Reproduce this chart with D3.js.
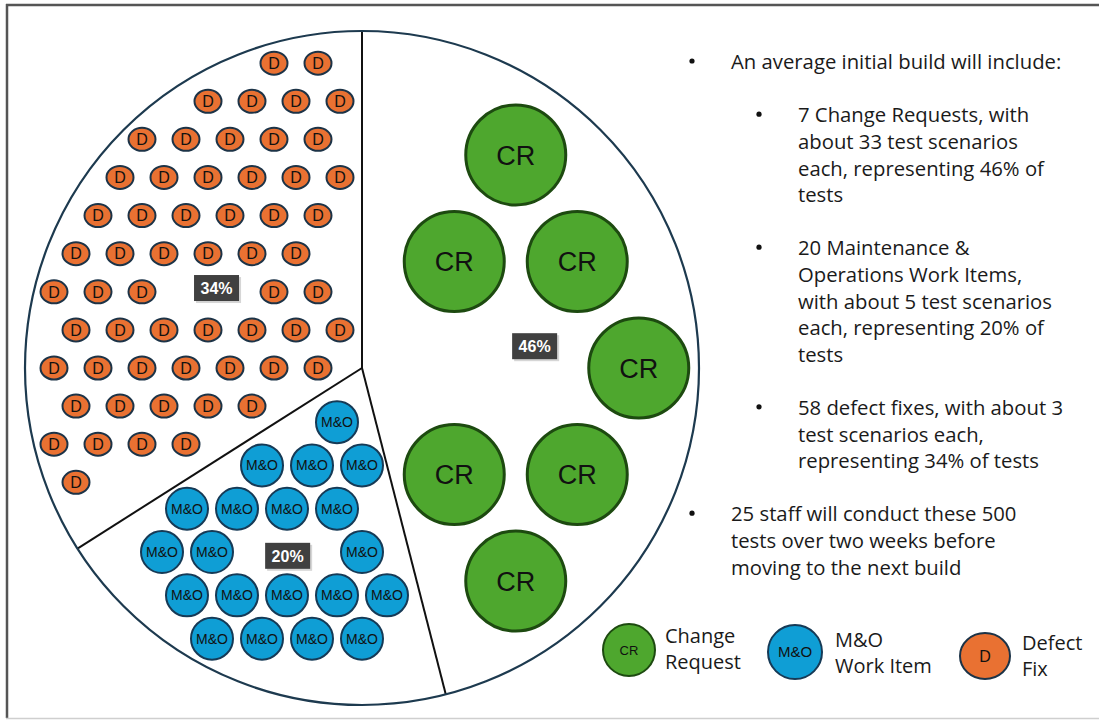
<!DOCTYPE html>
<html>
<head>
<meta charset="utf-8">
<script src="https://cdn.jsdelivr.net/npm/d3@7"></script>
<style>
  html, body { margin: 0; padding: 0; background: #fff; }
  svg { display: block; }
</style>
</head>
<body>
<svg id="chart" width="1099" height="720"></svg>
<script>
// Work item types in an initial build and their share of the tests
const categories = ["Change Request", "M&O Work Item", "Defect Fix"];
const iconLabels = ["CR", "M&O", "D"];
const itemCounts = [7, 20, 58];
const shareOfTests = [46, 20, 34];
const shareLabels = ["46%", "20%", "34%"];
const legendLines = [["Change", "Request"], ["M&O", "Work Item"], ["Defect", "Fix"]];

// Bullet notes beside the pie (level 0 = main bullet, level 1 = sub-bullet)
const noteLevels = [0, 1, 1, 1, 0];
const noteLines = [
  ["An average initial build will include:"],
  ["7 Change Requests, with", "about 33 test scenarios", "each, representing 46% of", "tests"],
  ["20 Maintenance &", "Operations Work Items,", "with about 5 test scenarios", "each, representing 20% of", "tests"],
  ["58 defect fixes, with about 3", "test scenarios each,", "representing 34% of tests"],
  ["25 staff will conduct these 500", "tests over two weeks before", "moving to the next build"]
];

// ---- styling ----
const fills = ["#4ea72e", "#0f9ed5", "#e97132"];
const strokes = ["#1d4a10", "#163a56", "#1c3347"];
const iconShape = [ {rx: 51, ry: 51, font: 27}, {rx: 22, ry: 22, font: 14}, {rx: 14.5, ry: 12.5, font: 16} ];
const legendShape = [ {rx: 27, ry: 27, font: 13}, {rx: 28, ry: 28, font: 15}, {rx: 26, ry: 24, font: 16} ];
const tagRadius = [174, 202, 166];
const textFont = "'Open Sans', Lato, sans-serif";

const svg = d3.select("#chart");

// outer frame
svg.append("line").attr("x1", 7).attr("y1", 4).attr("x2", 7).attr("y2", 718)
  .attr("stroke", "#555").attr("stroke-width", 2.5);
svg.append("line").attr("x1", 6).attr("y1", 5).attr("x2", 1099).attr("y2", 5)
  .attr("stroke", "#555").attr("stroke-width", 2.5);
svg.append("line").attr("x1", 6).attr("y1", 718.5).attr("x2", 1099).attr("y2", 718.5)
  .attr("stroke", "#cfcfcf").attr("stroke-width", 1.5);

// ---- pie ----
const cx = 362, cy = 368, R = 337;
const pie = d3.pie().sort(null).value(d => d.share);
const rows = categories.map((c, i) => ({ name: c, icon: iconLabels[i], count: itemCounts[i], share: shareOfTests[i], label: shareLabels[i], i }));
const slices = pie(rows);
const tagPos = d => d3.arc().innerRadius(tagRadius[d.data.i]).outerRadius(tagRadius[d.data.i]).centroid(d);

const g = svg.append("g").attr("transform", `translate(${cx},${cy})`);

g.append("circle").attr("r", R).attr("fill", "#fff");

// slice boundaries
g.selectAll("line.sep").data(slices).join("line").attr("class", "sep")
  .attr("x1", 0).attr("y1", 0)
  .attr("x2", d => R * Math.sin(d.startAngle))
  .attr("y2", d => -R * Math.cos(d.startAngle))
  .attr("stroke", "#111").attr("stroke-width", 2);

g.append("circle").attr("r", R).attr("fill", "none")
  .attr("stroke", "#1d3a4f").attr("stroke-width", 2.2);

// ---- icon layout: hex grid fitted inside each slice ----
const labelBox = { w: 45, h: 26 };

function normAngle(a) {
  a %= 2 * Math.PI;
  return a < 0 ? a + 2 * Math.PI : a;
}

function inSlice(x, y, d, clear) {
  if (Math.hypot(x, y) > R - clear - 3) return false;
  const a = normAngle(Math.atan2(x, -y) - d.startAngle);
  if (a > d.endAngle - d.startAngle) return false;
  for (const b of [d.startAngle, d.endAngle]) {
    const dist = Math.abs(x * Math.cos(b) + y * Math.sin(b));
    if (dist < clear) return false;
  }
  return true;
}

function candidates(d, s, clear, phase, avoid) {
  const pts = [];
  const rowH = s * Math.sqrt(3) / 2;
  const nr = Math.ceil(R / rowH) + 1, nc = Math.ceil(R / s) + 2;
  for (let j = -nr; j <= nr; j++) {
    const y = j * rowH + phase[1] * rowH;
    const off = (Math.abs(j) % 2) ? s / 2 : 0;
    for (let i = -nc; i <= nc; i++) {
      const x = i * s + off + phase[0] * s;
      if (!inSlice(x, y, d, clear)) continue;
      if (Math.abs(x - avoid[0]) < labelBox.w / 2 + clear && Math.abs(y - avoid[1]) < labelBox.h / 2 + clear) continue;
      pts.push([x, y]);
    }
  }
  return pts;
}

function layoutIcons(d, n, rIcon, pad) {
  const avoid = tagPos(d);
  const clear = rIcon + pad;
  const phases = [];
  for (let a = 0; a < 1; a += 0.25) for (let b = 0; b < 1; b += 0.25) phases.push([a, b]);
  for (let s = 300; s >= 15; s -= 0.5) {
    for (const ph of phases) {
      const pts = candidates(d, s, clear, ph, avoid);
      if (pts.length >= n) {
        const m = pts.length;
        return d3.range(n).map(k => pts[Math.floor(k * m / n)]);
      }
    }
  }
  return [];
}

slices.forEach(d => {
  const shape = iconShape[d.data.i];
  const pts = layoutIcons(d, d.data.count, shape.rx, d.data.i === 0 ? 6 : 2);
  const icons = g.append("g").selectAll("g").data(pts).join("g")
    .attr("transform", p => `translate(${p[0]},${p[1]})`);
  icons.append("ellipse")
    .attr("rx", shape.rx - 1).attr("ry", shape.ry - 1)
    .attr("fill", fills[d.data.i]).attr("stroke", strokes[d.data.i])
    .attr("stroke-width", d.data.i === 0 ? 3 : 2);
  icons.append("text")
    .attr("text-anchor", "middle").attr("dy", "0.36em")
    .attr("font-family", "'Liberation Sans', Arial, sans-serif")
    .attr("font-size", shape.font).attr("fill", "#111")
    .text(d.data.icon);
});

// percentage tags
const tags = g.selectAll("g.tag").data(slices).join("g").attr("class", "tag")
  .attr("transform", d => `translate(${tagPos(d)})`);
tags.append("rect")
  .attr("x", -labelBox.w / 2 + 2).attr("y", -labelBox.h / 2 + 2)
  .attr("width", labelBox.w).attr("height", labelBox.h).attr("fill", "#bbb").attr("opacity", 0.6);
tags.append("rect")
  .attr("x", -labelBox.w / 2).attr("y", -labelBox.h / 2)
  .attr("width", labelBox.w).attr("height", labelBox.h).attr("fill", "#404040");
tags.append("text")
  .attr("text-anchor", "middle").attr("dy", "0.36em")
  .attr("font-family", "'Liberation Sans', Arial, sans-serif").attr("font-weight", "bold")
  .attr("font-size", 16).attr("fill", "#fff")
  .text(d => d.data.label);

// ---- bullet notes ----
const lineStep = 26.6, firstLine = 62;
const bulletX = [692, 759], textX = [731, 798];
let lineIdx = 0;
const notes = svg.append("g").attr("font-family", textFont).attr("font-size", 20.3).attr("fill", "#1a1a1a");
noteLines.forEach((lines, k) => {
  const lvl = noteLevels[k];
  notes.append("circle")
    .attr("cx", bulletX[lvl]).attr("cy", firstLine + lineIdx * lineStep - 1).attr("r", 2.6).attr("fill", "#111");
  lines.forEach(t => {
    notes.append("text").attr("x", textX[lvl]).attr("y", firstLine + lineIdx * lineStep)
      .attr("dy", "0.35em").text(t);
    lineIdx++;
  });
  lineIdx++;
});

// ---- legend ----
const legendX = [629, 795, 985], legendY = [650, 652, 656];
const legendTextX = [665, 835, 1022], legendTextY = [636, 640, 643];
const legend = svg.append("g").selectAll("g").data(categories).join("g");
legend.append("ellipse")
  .attr("cx", (d, i) => legendX[i]).attr("cy", (d, i) => legendY[i])
  .attr("rx", (d, i) => legendShape[i].rx - 1).attr("ry", (d, i) => legendShape[i].ry - 1)
  .attr("fill", (d, i) => fills[i]).attr("stroke", (d, i) => strokes[i]).attr("stroke-width", 2);
legend.append("text")
  .attr("x", (d, i) => legendX[i]).attr("y", (d, i) => legendY[i]).attr("dy", "0.36em")
  .attr("text-anchor", "middle").attr("font-family", "'Liberation Sans', Arial, sans-serif")
  .attr("font-size", (d, i) => legendShape[i].font).attr("fill", "#111")
  .text((d, i) => iconLabels[i]);
legend.each(function(d, i) {
  legendLines[i].forEach((t, j) => {
    d3.select(this).append("text")
      .attr("x", legendTextX[i]).attr("y", legendTextY[i] + j * 26).attr("dy", "0.35em")
      .attr("font-family", textFont).attr("font-size", 20).attr("fill", "#1a1a1a")
      .text(t);
  });
});
</script>
</body>
</html>
